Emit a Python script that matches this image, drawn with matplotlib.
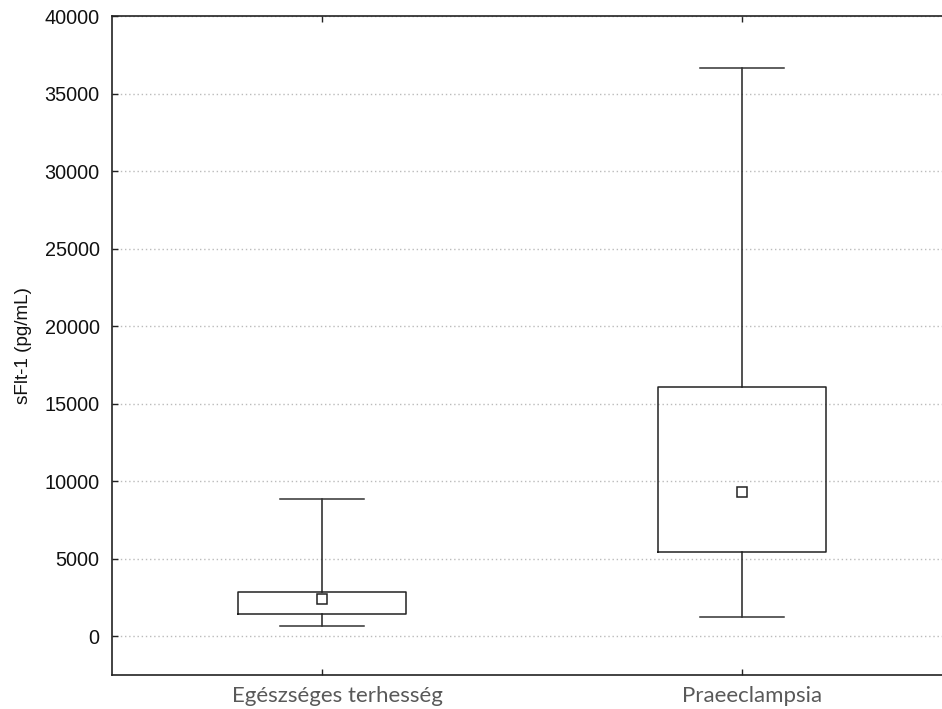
import matplotlib
matplotlib.use('Agg')
from matplotlib import pyplot as plt

groups = ['Egészséges terhesség', 'Praeeclampsia']
whislo = [670, 1220]
q1 = [1450, 5460]
med = [2380, 9300]
q3 = [2830, 16060]
whishi = [8850, 36630]

yticks = [0, 5000, 10000, 15000, 20000, 25000, 30000, 35000, 40000]

if __name__ == '__main__':
    f = plt.figure(figsize=(9.42, 7.09), dpi=100)
    ax = f.add_axes([112/942, 34/709, 840/942, 659/709])

    stats = []
    for i in range(len(groups)):
        stats.append({'label': groups[i], 'whislo': whislo[i], 'q1': q1[i],
                      'med': med[i], 'q3': q3[i], 'whishi': whishi[i]})

    line = dict(color='#222222', linewidth=1.1)
    ax.bxp(stats, positions=[1, 2], widths=0.4, showfliers=False,
           boxprops=line, whiskerprops=line,
           capprops=dict(color='#333333', linewidth=1.1), capwidths=0.2,
           medianprops=dict(visible=False))
    ax.plot([1, 2], med, linestyle='none', marker='s', markersize=7,
            markerfacecolor='white', markeredgecolor='#222222',
            markeredgewidth=1.1, zorder=5)

    ax.set_xlim(0.5, 2.5)
    ax.set_ylim(-2500, 40000)
    ax.set_yticks(yticks)
    ax.set_yticklabels([str(v) for v in yticks], fontsize=14.3,
                       family='Liberation Sans', color='#111111')
    ax.set_xticks([1, 2])
    ax.set_xticklabels(['', ''])
    # category labels sit a bit right of the ticks in the original
    for pos, name, dx in zip([1, 2], groups, [11, 7]):
        ax.annotate(name, xy=(pos, 0), xycoords=('data', 'axes fraction'),
                    xytext=(dx, -8), textcoords='offset points',
                    ha='center', va='top', fontsize=16, family='Lato',
                    color='#595959')
    ax.tick_params(direction='in', length=4, top=True, right=True,
                   color='#222222', width=1)
    ax.tick_params(axis='y', pad=9)
    ax.grid(axis='y', linestyle=(0, (1, 2)), color='#bbbbbb', linewidth=1)
    ax.set_axisbelow(True)
    ax.set_ylabel('sFlt-1 (pg/mL)', fontsize=13.6, family='Liberation Sans',
                  color='#111111', labelpad=9)
    for s in ax.spines.values():
        s.set_color('#222222')
        s.set_linewidth(1.2)

    f.savefig('out.png', dpi=100)
